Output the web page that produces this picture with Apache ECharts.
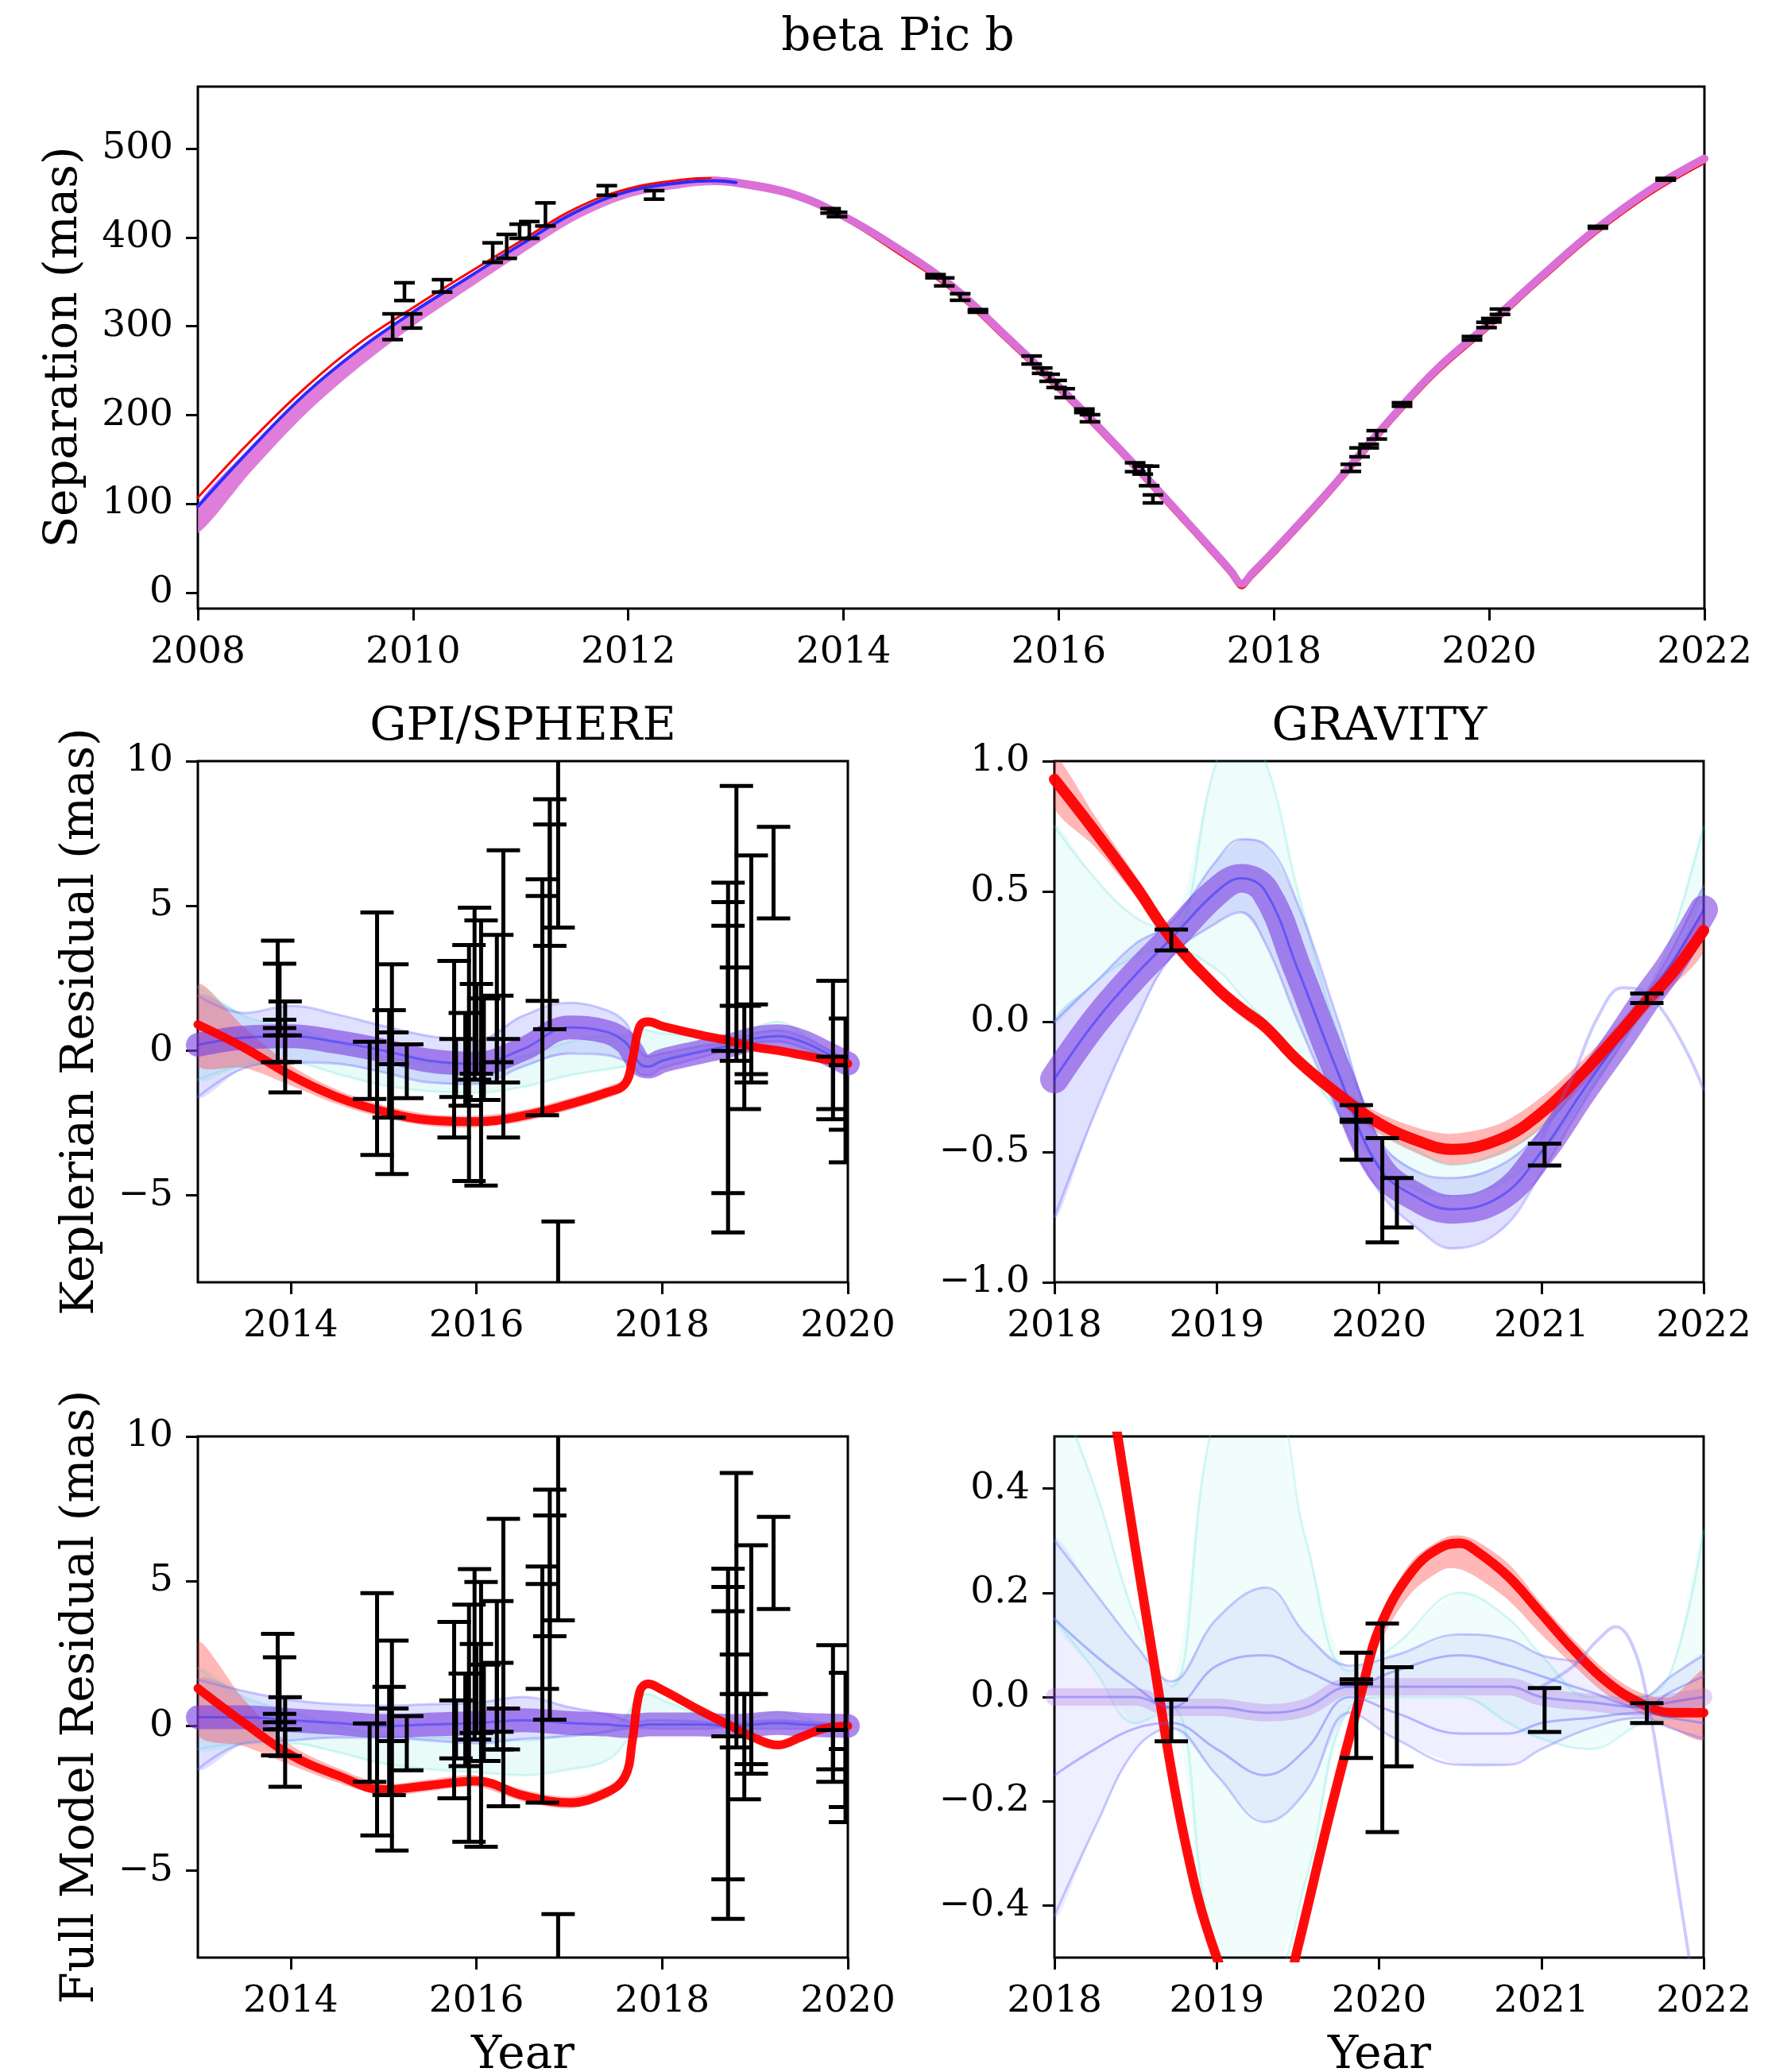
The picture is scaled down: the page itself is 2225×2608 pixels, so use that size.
<!DOCTYPE html>
<html>
<head>
<meta charset="utf-8">
<title>beta Pic b</title>
<script src="https://cdn.jsdelivr.net/npm/echarts@6.0.0/dist/echarts.min.js"></script>
<style>
  html, body { margin: 0; padding: 0; background: #ffffff; }
  #chart { width: 2225px; height: 2608px; }
</style>
</head>
<body>
<div id="chart"></div>
<script>
// ---------- Separation vs time (top panel) ----------
const sepYears = [2008, 2008.5, 2009, 2009.5, 2010, 2010.5, 2011, 2011.5, 2012, 2012.5, 2012.8, 2013, 2013.5, 2014, 2014.5, 2015, 2015.5, 2016, 2016.5, 2017, 2017.3, 2017.5, 2017.6, 2017.7, 2017.8, 2018, 2018.5, 2019, 2019.5, 2020, 2020.5, 2021, 2021.5, 2022];
const sepBlue = [97, 163, 224, 274, 316, 354, 392, 428, 452, 462, 464, 462, 450, 424, 388, 346, 290, 232, 170, 105, 65, 38, 24, 10, 22, 47, 113, 184, 250, 303, 358, 410, 454, 489];
const sepRed = [107, 172, 231, 281, 321, 359, 396, 432, 455, 465, 467, 464, 450, 421, 383, 341, 285, 227, 165, 100, 60, 33, 19, 5, 17, 42, 108, 179, 245, 298, 353, 405, 449, 484];
const sepOrchidLo = [67, 137, 201, 254, 300, 341, 381, 419, 445, 456, 459, 457, 445, 420, 384, 342, 286, 228, 166, 101, 61, 34, 20, 6, 18, 43, 109, 180, 246, 299, 354, 406, 450, 485];
const sepOrchidHi = [99, 165, 226, 276, 318, 356, 394, 430, 454, 464, 466, 465, 454, 428, 392, 350, 294, 236, 174, 109, 69, 42, 28, 14, 26, 51, 117, 188, 254, 307, 362, 414, 458, 493];

const sepObsYear = [2009.81, 2009.92, 2009.99, 2010.27, 2010.74, 2010.87, 2010.99, 2011.08, 2011.23, 2011.80, 2012.24, 2013.88, 2013.94, 2014.855, 2014.936, 2015.084, 2015.249, 2015.748, 2015.846, 2015.915, 2015.98, 2016.055, 2016.238, 2016.29, 2016.71, 2016.78, 2016.84, 2016.875, 2018.714, 2018.795, 2018.88, 2018.955, 2019.19, 2019.84, 2019.975, 2020.02, 2020.10, 2021.01, 2021.64];
const sepObs = [299.5, 339, 306, 345.5, 383, 390, 407, 408.5, 426, 453, 448, 430, 426, 356.4, 350, 333, 317.3, 262, 250, 242, 235, 224.7, 204.8, 196.4, 141.2, 138, 131.4, 105.5, 140.5, 158, 165, 177.7, 211.9, 286.5, 301.5, 306.8, 316.4, 411.6, 465.6];
const sepErr = [14.5, 10, 8, 7, 11, 13.5, 8, 9.5, 13, 5.4, 4.8, 2.5, 2.5, 1.8, 4.5, 3.7, 1.5, 4.5, 3, 4, 4, 5, 2, 4, 5, 4.5, 11, 4.5, 4, 5, 2, 4.7, 2, 2, 3, 2, 3, 1, 1];

// ---------- GPI/SPHERE residuals ----------
const gpiYears = [2013, 2013.5, 2014, 2014.5, 2015, 2015.5, 2016, 2016.5, 2017, 2017.4, 2017.6, 2017.68, 2017.76, 2017.85, 2018, 2018.4, 2018.75, 2019, 2019.25, 2019.5, 2019.75, 2020];

const kepRedMid = [0.9, 0.1, -0.85, -1.6, -2.1, -2.4, -2.45, -2.25, -1.85, -1.45, -1.15, -0.3, 0.85, 1.0, 0.85, 0.55, 0.32, 0.12, 0.0, -0.15, -0.3, -0.45];
const kepRedLo = [-0.5, -0.6, -1.2, -1.85, -2.32, -2.6, -2.65, -2.45, -2.05, -1.65, -1.35, -0.55, 0.65, 0.85, 0.73, 0.45, 0.24, 0.06, -0.06, -0.21, -0.36, -0.51];
const kepRedHi = [2.3, 0.8, -0.5, -1.35, -1.88, -2.2, -2.25, -2.05, -1.65, -1.25, -0.95, -0.05, 1.05, 1.15, 0.97, 0.65, 0.4, 0.18, 0.06, -0.09, -0.24, -0.39];
const kepBlueMid = [0.2, 0.45, 0.5, 0.3, 0.0, -0.35, -0.45, 0.05, 0.8, 0.65, 0.3, -0.05, -0.45, -0.55, -0.35, -0.05, 0.2, 0.42, 0.5, 0.32, -0.05, -0.45];
const kepBlueLo = [-1.6, -0.6, -0.4, -0.45, -0.75, -1.1, -1.15, -0.55, -0.1, -0.15, -0.35, -0.5, -0.8, -0.85, -0.6, -0.25, 0.08, 0.28, 0.32, 0.12, -0.2, -0.6];
const kepBlueHi = [1.9, 1.3, 1.55, 1.25, 0.85, 0.5, 0.35, 1.2, 1.65, 1.4, 1.0, 0.5, 0.0, -0.2, -0.1, 0.15, 0.32, 0.6, 0.7, 0.5, 0.1, -0.33];
const kepCyanLo = [-1.0, -0.5, -0.4, -0.8, -1.2, -1.4, -1.45, -1.25, -0.85, -0.65, -0.55, -0.5, -0.6, -0.55, -0.3, 0.0, 0.18, 0.3, 0.3, 0.1, -0.2, -0.55];
const kepCyanHi = [2.2, 1.2, 0.8, 0.3, -0.2, -0.4, -0.5, -0.2, 0.3, 0.5, 0.5, 0.55, 0.75, 0.7, 0.6, 0.5, 0.45, 0.8, 1.0, 0.6, 0.1, -0.35];

const fullRedMid = [1.3, 0.1, -1.0, -1.7, -2.2, -2.05, -1.9, -2.4, -2.65, -2.3, -1.75, -0.5, 1.2, 1.45, 1.25, 0.55, -0.02, -0.42, -0.66, -0.38, -0.08, 0.0];
const fullRedLo = [-0.3, -0.7, -1.35, -1.95, -2.4, -2.25, -2.1, -2.6, -2.85, -2.5, -1.95, -0.75, 1.0, 1.3, 1.13, 0.45, -0.1, -0.49, -0.73, -0.45, -0.14, -0.06];
const fullRedHi = [2.9, 0.9, -0.65, -1.45, -2.0, -1.85, -1.7, -2.2, -2.45, -2.1, -1.55, -0.25, 1.4, 1.6, 1.37, 0.65, 0.06, -0.35, -0.59, -0.31, -0.02, 0.06];
const fullBlueMid = [0.3, 0.3, 0.2, 0.1, 0.0, 0.05, 0.1, 0.2, 0.1, 0.05, 0.0, 0.0, 0.02, 0.05, 0.05, 0.05, 0.0, 0.05, 0.1, 0.05, 0.02, 0.0];
const fullBlueLo = [-1.5, -0.6, -0.5, -0.4, -0.4, -0.5, -0.6, -0.45, -0.35, -0.2, -0.1, -0.06, -0.06, -0.08, -0.1, -0.1, -0.05, -0.1, -0.1, -0.1, -0.05, -0.05];
const fullBlueHi = [1.6, 1.2, 0.9, 0.75, 0.7, 0.75, 0.8, 1.0, 0.65, 0.4, 0.2, 0.12, 0.15, 0.2, 0.2, 0.15, 0.05, 0.15, 0.2, 0.15, 0.1, 0.05];
const fullCyanLo = [-0.8, -0.6, -0.6, -0.9, -1.3, -1.5, -1.6, -1.7, -1.5, -1.2, -0.6, -0.2, 0.0, 0.0, 0.0, 0.0, -0.05, 0.0, 0.0, 0.0, -0.02, -0.03];
const fullCyanHi = [2.0, 1.0, 0.5, 0.0, -0.3, -0.4, -0.4, -0.5, -0.3, -0.2, 0.3, 0.7, 1.0, 1.1, 0.9, 0.4, 0.05, 0.3, 0.5, 0.3, 0.1, 0.03];

const gpiObsYear = [2013.86, 2013.88, 2013.88, 2013.94, 2013.94, 2014.85, 2014.93, 2015.06, 2015.09, 2015.09, 2015.25, 2015.76, 2015.78, 2015.88, 2015.92, 2015.98, 2016.00, 2016.05, 2016.08, 2016.22, 2016.22, 2016.29, 2016.29, 2016.71, 2016.71, 2016.79, 2016.79, 2016.88, 2016.88, 2018.71, 2018.71, 2018.71, 2018.80, 2018.80, 2018.885, 2018.96, 2018.96, 2019.20, 2019.84, 2019.84, 2019.975, 2019.975];
const gpiKepRes = [1.7, 1.89, 0.8, 0.13, 0.07, -0.68, 0.585, -0.455, -0.64, 0.08, -0.71, 0.05, -0.6, -0.3, -0.425, 1.97, 0.75, -0.08, 0.05, 1.45, 0.75, 1.96, -0.35, 1.845, 3.53, 4.71, 5.715, 8.8, -10.5, -0.24, 0.105, 2.15, 4.395, 2.21, -0.235, 2.965, 0.25, 6.15, 0.195, -1.29, -0.81, -2.18];
const gpiKepErr = [2.1, 1.11, 0.27, 1.57, 0.46, 0.99, 4.185, 1.855, 3.62, 0.55, 0.93, 3.05, 1.0, 1.6, 4.075, 2.97, 1.55, 4.58, 1.75, 2.55, 1.15, 4.96, 0.75, 4.075, 1.81, 3.97, 2.095, 4.55, 4.6, 6.04, 5.025, 2.16, 4.745, 0.66, 1.785, 3.775, 1.35, 1.58, 2.215, 1.08, 1.92, 1.68];
const gpiFullRes = [1.08, 1.25, 0.15, -0.555, -0.58, -0.92, 0.405, -0.52, -0.675, 0.04, -0.595, 0.545, -0.12, 0.21, 0.095, 2.475, 1.295, 0.4, 0.455, 1.75, 0.99, 2.19, -0.105, 1.43, 3.09, 4.19, 5.185, 8.2, -11.1, -0.615, -0.25, 1.8, 4.0, 1.785, -0.715, 2.295, -0.11, 5.63, 0.43, -0.82, -0.74, -1.8];
const gpiFullErr = [2.1, 1.12, 0.27, 1.545, 0.46, 1.01, 4.185, 1.87, 3.625, 0.56, 0.935, 3.045, 1.0, 1.6, 4.095, 2.945, 1.535, 4.57, 1.665, 2.56, 1.19, 4.96, 0.705, 4.08, 1.81, 3.97, 2.085, 4.55, 4.6, 6.045, 5.05, 2.16, 4.74, 0.685, 1.815, 3.945, 1.21, 1.59, 2.36, 0.68, 2.58, 1.0];

// ---------- GRAVITY residuals ----------
const gravKepYears = [2018, 2018.25, 2018.5, 2018.72, 2019, 2019.15, 2019.3, 2019.5, 2019.75, 2020, 2020.25, 2020.45, 2020.75, 2021, 2021.25, 2021.5, 2021.65, 2021.8, 2022];
const gravKepRedMid = [0.93, 0.73, 0.52, 0.32, 0.13, 0.05, -0.02, -0.15, -0.28, -0.39, -0.46, -0.49, -0.45, -0.35, -0.2, -0.03, 0.08, 0.18, 0.35];
const gravKepRedLo = [0.82, 0.67, 0.48, 0.29, 0.1, 0.02, -0.05, -0.18, -0.31, -0.43, -0.51, -0.55, -0.51, -0.41, -0.25, -0.07, 0.04, 0.13, 0.27];
const gravKepRedHi = [1.02, 0.79, 0.56, 0.35, 0.16, 0.08, 0.01, -0.12, -0.25, -0.35, -0.41, -0.43, -0.39, -0.29, -0.15, 0.01, 0.12, 0.23, 0.42];
const gravKepBlueMid = [-0.22, 0.0, 0.18, 0.32, 0.5, 0.55, 0.5, 0.2, -0.2, -0.56, -0.68, -0.72, -0.67, -0.5, -0.27, -0.05, 0.09, 0.22, 0.43];
const gravKepBlueLo = [-0.75, -0.35, 0.0, 0.25, 0.38, 0.42, 0.3, 0.0, -0.35, -0.65, -0.8, -0.87, -0.8, -0.58, -0.32, -0.08, 0.07, 0.18, 0.36];
const gravKepBlueHi = [0.0, 0.15, 0.3, 0.38, 0.62, 0.7, 0.68, 0.45, 0.0, -0.45, -0.58, -0.6, -0.55, -0.42, -0.22, -0.02, 0.11, 0.27, 0.52];
const gravKepCyanLo = [0.0, 0.15, 0.25, 0.28, 0.2, 0.1, 0.0, -0.15, -0.35, -0.55, -0.65, -0.67, -0.62, -0.5, -0.3, -0.08, 0.06, 0.2, 0.5];
const gravKepCyanHi = [0.75, 0.55, 0.4, 0.35, 1.0, 1.1, 1.0, 0.5, -0.05, -0.4, -0.5, -0.55, -0.5, -0.4, -0.2, 0.0, 0.12, 0.32, 0.75];
const gravKepStrayYears = [2021.0, 2021.2, 2021.35, 2021.5, 2021.62, 2021.75, 2021.9, 2022];
const gravKepStray = [-0.45, -0.2, 0.02, 0.13, 0.12, 0.04, -0.12, -0.26];

const gravFullRedYears = [2018, 2018.2, 2018.4, 2018.6, 2018.8, 2019, 2019.2, 2019.3, 2019.4, 2019.5, 2019.7, 2019.9, 2020, 2020.2, 2020.4, 2020.5, 2020.6, 2020.8, 2021, 2021.2, 2021.4, 2021.6, 2021.8, 2022];
const gravFullRedMid = [1.25, 0.87, 0.48, 0.09, -0.27, -0.5, -0.62, -0.64, -0.6, -0.48, -0.22, 0.02, 0.13, 0.24, 0.29, 0.295, 0.28, 0.23, 0.16, 0.09, 0.03, -0.01, -0.03, -0.03];
const gravFullRedLo = [1.2, 0.84, 0.455, 0.07, -0.29, -0.52, -0.645, -0.665, -0.625, -0.5, -0.24, 0.0, 0.1, 0.2, 0.245, 0.245, 0.23, 0.185, 0.12, 0.06, 0.005, -0.03, -0.06, -0.08];
const gravFullRedHi = [1.3, 0.9, 0.505, 0.11, -0.25, -0.48, -0.595, -0.615, -0.575, -0.46, -0.2, 0.04, 0.15, 0.26, 0.305, 0.31, 0.3, 0.255, 0.18, 0.11, 0.05, 0.01, 0.0, 0.05];
const gravFullYears = [2018, 2018.25, 2018.5, 2018.72, 2019, 2019.3, 2019.55, 2019.82, 2020.1, 2020.5, 2020.8, 2021, 2021.3, 2021.62, 2021.8, 2022];
const gravFullBlueMid = [0.0, 0.0, 0.0, -0.02, -0.02, -0.03, -0.02, 0.02, 0.02, 0.02, 0.02, 0.0, -0.01, -0.02, -0.01, 0.0];
const gravFullBlueLo = [-0.42, -0.25, -0.1, -0.06, -0.15, -0.24, -0.18, -0.03, -0.08, -0.13, -0.13, -0.1, -0.06, -0.04, -0.06, -0.08];
const gravFullBlueHi = [0.3, 0.2, 0.1, 0.03, 0.15, 0.21, 0.12, 0.06, 0.08, 0.12, 0.11, 0.08, 0.06, 0.0, 0.04, 0.08];
const gravFullStrandA = [0.15, 0.08, 0.02, -0.02, 0.06, 0.08, 0.05, 0.02, 0.05, 0.08, 0.06, 0.04, 0.01, -0.02, 0.01, 0.04];
const gravFullStrandB = [-0.15, -0.1, -0.06, -0.05, -0.1, -0.15, -0.1, 0.0, -0.03, -0.07, -0.07, -0.05, -0.04, -0.03, -0.04, -0.05];
const gravFullCyanLo = [0.15, 0.05, -0.05, -0.02, -0.5, -0.55, -0.35, -0.02, 0.0, 0.0, -0.05, -0.08, -0.1, -0.05, -0.04, -0.02];
const gravFullCyanHi = [0.6, 0.4, 0.15, 0.02, 0.55, 0.6, 0.3, 0.05, 0.1, 0.2, 0.15, 0.08, 0.0, 0.0, 0.05, 0.32];
const gravFullStrayYears = [2021.0, 2021.2, 2021.35, 2021.46, 2021.56, 2021.65, 2021.75, 2021.85, 2021.92, 2022];
const gravFullStray = [0.02, 0.06, 0.11, 0.135, 0.1, 0.0, -0.18, -0.38, -0.52, -0.7];

const gravObsYear = [2018.72, 2019.86, 2019.86, 2020.02, 2020.11, 2021.02, 2021.65];
const gravKepRes = [0.314, -0.425, -0.38, -0.647, -0.695, -0.51, 0.09];
const gravKepErr = [0.04, 0.105, 0.004, 0.2, 0.095, 0.042, 0.018];
const gravFullRes = [-0.045, -0.016, 0.03, -0.059, -0.038, -0.025, -0.031];
const gravFullErr = [0.04, 0.101, 0.004, 0.2, 0.095, 0.042, 0.019];

// ---------- tick values ----------
const sepTicks = [0, 100, 200, 300, 400, 500];
const gpiYearTicks = [2014, 2016, 2018, 2020];
const gpiResTicks = [-5, 0, 5, 10];
const gravFullTicks = [-0.4, -0.2, 0, 0.2, 0.4];

// ---------- drawing helpers ----------
const FONT = 'DejaVu Serif';
const RED = '#ff0000', BLUE = '#2b2bff', ORCHID = '#da70d6', TURQ = '#40e0d0';

const pairs = (xs, ys) => xs.map((x, i) => [x, ys[i]]);
const minusFmt = (digits) => (v) => {
  const s = digits == null ? String(Math.abs(v)) : Math.abs(v).toFixed(digits);
  return (v < 0 ? '\u2212' : '') + s;
};

function curve(ax, xs, ys, color, width, opacity) {
  return {
    type: 'line', xAxisIndex: ax, yAxisIndex: ax, data: pairs(xs, ys),
    symbol: 'none', showSymbol: false, smooth: 0.4,
    clip: true, silent: true,
    lineStyle: { color: color, width: width, opacity: opacity, cap: 'round', join: 'round' }
  };
}

function band(ax, xs, lo, hi, color, opacity) {
  return {
    type: 'custom', xAxisIndex: ax, yAxisIndex: ax, coordinateSystem: 'cartesian2d',
    clip: true, silent: true, data: [[xs[0], lo[0]]],
    renderItem: function (params, api) {
      const pts = [];
      for (let i = 0; i < xs.length; i++) pts.push(api.coord([xs[i], hi[i]]));
      for (let i = xs.length - 1; i >= 0; i--) pts.push(api.coord([xs[i], lo[i]]));
      return { type: 'polygon', shape: { points: pts, smooth: 0.3 }, style: { fill: color, opacity: opacity } };
    }
  };
}

function errorBars(ax, xs, vals, errs, capHalf, lw) {
  return {
    type: 'custom', xAxisIndex: ax, yAxisIndex: ax, coordinateSystem: 'cartesian2d',
    clip: true, silent: true, z: 5,
    data: xs.map((x, i) => [x, vals[i] - errs[i], vals[i] + errs[i]]),
    encode: { x: 0, y: [1, 2] },
    renderItem: function (params, api) {
      const x = api.value(0);
      const a = api.coord([x, api.value(1)]);
      const b = api.coord([x, api.value(2)]);
      const st = { stroke: '#000000', lineWidth: lw };
      return {
        type: 'group', children: [
          { type: 'line', shape: { x1: a[0], y1: a[1], x2: b[0], y2: b[1] }, style: st },
          { type: 'line', shape: { x1: a[0] - capHalf, y1: a[1], x2: a[0] + capHalf, y2: a[1] }, style: st },
          { type: 'line', shape: { x1: b[0] - capHalf, y1: b[1], x2: b[0] + capHalf, y2: b[1] }, style: st }
        ]
      };
    }
  };
}

// One residual panel: turquoise, blue/purple and red posterior draws.
function residualLayers(ax, xs, cLo, cHi, bLo, bMid, bHi, redXs, rLo, rMid, rHi, look) {
  return [
    band(ax, xs, cLo, cHi, TURQ, look.cyanFill),
    curve(ax, xs, cLo, TURQ, 3, 0.22),
    curve(ax, xs, cHi, TURQ, 3, 0.22),
    band(ax, xs, bLo, bHi, '#6666ff', look.blueFill),
    curve(ax, xs, bLo, '#6a6aff', 3, 0.35),
    curve(ax, xs, bHi, '#6a6aff', 3, 0.35),
    curve(ax, xs, bMid, look.coreColor, look.coreWidth, look.coreOpacity),
    curve(ax, xs, bMid, BLUE, 3, look.blueLine),
    band(ax, redXs, rLo, rHi, '#ff3030', 0.35),
    curve(ax, redXs, rMid, RED, look.redWidth, 0.95)
  ];
}

// ---------- axes ----------
const tickStyle = { show: true, inside: false, length: 15, lineStyle: { color: '#000', width: 3 } };
const labelBase = { color: '#000', fontFamily: FONT, fontSize: 47 };

function xAxis(ax, min, max, opts) {
  const a = {
    type: 'value', gridIndex: ax, min: min, max: max,
    axisLine: { show: false, onZero: false }, splitLine: { show: false },
    axisTick: Object.assign({}, tickStyle),
    axisLabel: Object.assign({}, labelBase, { margin: 32, formatter: (v) => String(v), showMinLabel: true, showMaxLabel: true })
  };
  if (opts.interval) a.interval = opts.interval;
  if (opts.ticks) { a.axisTick.customValues = opts.ticks; a.axisLabel.customValues = opts.ticks; }
  return a;
}
function yAxis(ax, min, max, opts) {
  const a = {
    type: 'value', gridIndex: ax, min: min, max: max,
    axisLine: { show: false, onZero: false }, splitLine: { show: false },
    axisTick: Object.assign({}, tickStyle),
    axisLabel: Object.assign({}, labelBase, { margin: 31, formatter: opts.fmt, showMinLabel: true, showMaxLabel: true })
  };
  if (opts.interval) a.interval = opts.interval;
  if (opts.ticks) { a.axisTick.customValues = opts.ticks; a.axisLabel.customValues = opts.ticks; }
  return a;
}

const gridBox = { show: true, borderColor: '#000', borderWidth: 3, backgroundColor: 'transparent', containLabel: false };
const grids = [
  Object.assign({ left: 249, top: 109, width: 1896, height: 657 }, gridBox),
  Object.assign({ left: 249, top: 958, width: 818, height: 656 }, gridBox),
  Object.assign({ left: 1327, top: 958, width: 817, height: 656 }, gridBox),
  Object.assign({ left: 249, top: 1808, width: 818, height: 656 }, gridBox),
  Object.assign({ left: 1327, top: 1808, width: 817, height: 656 }, gridBox)
];

// ---------- series ----------
const series = [];

// top panel: separation model draws
series.push(band(0, sepYears, sepOrchidLo, sepOrchidHi, ORCHID, 0.9));
series.push(curve(0, sepYears, sepRed, RED, 3, 1));
{
  const late = sepYears.map((y, i) => [y, sepBlue[i]]).filter(p => p[0] >= 2012.8);
  series.push(curve(0, late.map(p => p[0]), late.map(p => p[1]), ORCHID, 10, 1));
  const early = sepYears.map((y, i) => [y, sepBlue[i]]).filter(p => p[0] <= 2013);
  series.push(curve(0, early.map(p => p[0]), early.map(p => p[1]), BLUE, 4, 1));
}

const gpiLook = { cyanFill: 0.12, blueFill: 0.2, coreColor: '#7b3fe0', coreWidth: 30, coreOpacity: 0.62, blueLine: 0.45, redWidth: 11 };
const gravKepLook = { cyanFill: 0.09, blueFill: 0.2, coreColor: '#7b3fe0', coreWidth: 36, coreOpacity: 0.6, blueLine: 0.5, redWidth: 14 };
const gravFullLook = { cyanFill: 0.08, blueFill: 0.1, coreColor: '#b06ee6', coreWidth: 22, coreOpacity: 0.3, blueLine: 0.3, redWidth: 12 };

// GPI/SPHERE Keplerian residuals
series.push(...residualLayers(1, gpiYears, kepCyanLo, kepCyanHi, kepBlueLo, kepBlueMid, kepBlueHi,
  gpiYears, kepRedLo, kepRedMid, kepRedHi, gpiLook));
// GRAVITY Keplerian residuals
series.push(...residualLayers(2, gravKepYears, gravKepCyanLo, gravKepCyanHi, gravKepBlueLo, gravKepBlueMid, gravKepBlueHi,
  gravKepYears, gravKepRedLo, gravKepRedMid, gravKepRedHi, gravKepLook));
series.push(curve(2, gravKepStrayYears, gravKepStray, '#6a6aff', 4, 0.35));
// GPI/SPHERE full-model residuals
series.push(...residualLayers(3, gpiYears, fullCyanLo, fullCyanHi, fullBlueLo, fullBlueMid, fullBlueHi,
  gpiYears, fullRedLo, fullRedMid, fullRedHi, gpiLook));
// GRAVITY full-model residuals
series.push(...residualLayers(4, gravFullYears, gravFullCyanLo, gravFullCyanHi, gravFullBlueLo, gravFullBlueMid, gravFullBlueHi,
  gravFullRedYears, gravFullRedLo, gravFullRedMid, gravFullRedHi, gravFullLook));
series.push(curve(4, gravFullYears, gravFullStrandA, '#5a5aff', 3, 0.4));
series.push(curve(4, gravFullYears, gravFullStrandB, '#5a5aff', 3, 0.4));
series.push(curve(4, gravFullStrayYears, gravFullStray, '#6a6aff', 4, 0.35));

// measurements
series.push(errorBars(0, sepObsYear, sepObs, sepErr, 13, 4.5));
series.push(errorBars(1, gpiObsYear, gpiKepRes, gpiKepErr, 21, 5));
series.push(errorBars(2, gravObsYear, gravKepRes, gravKepErr, 21, 5));
series.push(errorBars(3, gpiObsYear, gpiFullRes, gpiFullErr, 21, 5));
series.push(errorBars(4, gravObsYear, gravFullRes, gravFullErr, 21, 5));

// ---------- text ----------
function label(text, x, y, size, rot) {
  return {
    type: 'text', x: x, y: y, rotation: rot || 0, silent: true, z: 10,
    style: {
      text: text, x: 0, y: 0, fill: '#000', fontFamily: FONT, fontSize: size,
      align: 'center', verticalAlign: 'middle', textAlign: 'center', textVerticalAlign: 'middle'
    }
  };
}

const option = {
  animation: false,
  backgroundColor: '#ffffff',
  textStyle: { fontFamily: FONT },
  grid: grids,
  xAxis: [
    xAxis(0, 2008, 2022, { interval: 2 }),
    xAxis(1, 2013, 2020, { ticks: gpiYearTicks }),
    xAxis(2, 2018, 2022, { interval: 1 }),
    xAxis(3, 2013, 2020, { ticks: gpiYearTicks }),
    xAxis(4, 2018, 2022, { interval: 1 })
  ],
  yAxis: [
    yAxis(0, -18, 570, { ticks: sepTicks, fmt: minusFmt(null) }),
    yAxis(1, -8, 10, { ticks: gpiResTicks, fmt: minusFmt(null) }),
    yAxis(2, -1, 1, { interval: 0.5, fmt: minusFmt(1) }),
    yAxis(3, -8, 10, { ticks: gpiResTicks, fmt: minusFmt(null) }),
    yAxis(4, -0.5, 0.5, { ticks: gravFullTicks, fmt: minusFmt(1) })
  ],
  series: series,
  graphic: [
    label('beta Pic b', 1130, 48, 58),
    label('GPI/SPHERE', 658, 916, 58),
    label('GRAVITY', 1736, 916, 58),
    label('Separation (mas)', 81, 437, 58, Math.PI / 2),
    label('Keplerian Residual (mas)', 102, 1286, 58, Math.PI / 2),
    label('Full Model Residual (mas)', 102, 2136, 58, Math.PI / 2),
    label('Year', 658, 2588, 58),
    label('Year', 1736, 2588, 58)
  ]
};

const chart = echarts.init(document.getElementById('chart'), null, { renderer: 'canvas', width: 2225, height: 2608 });
chart.setOption(option);
</script>
</body>
</html>
